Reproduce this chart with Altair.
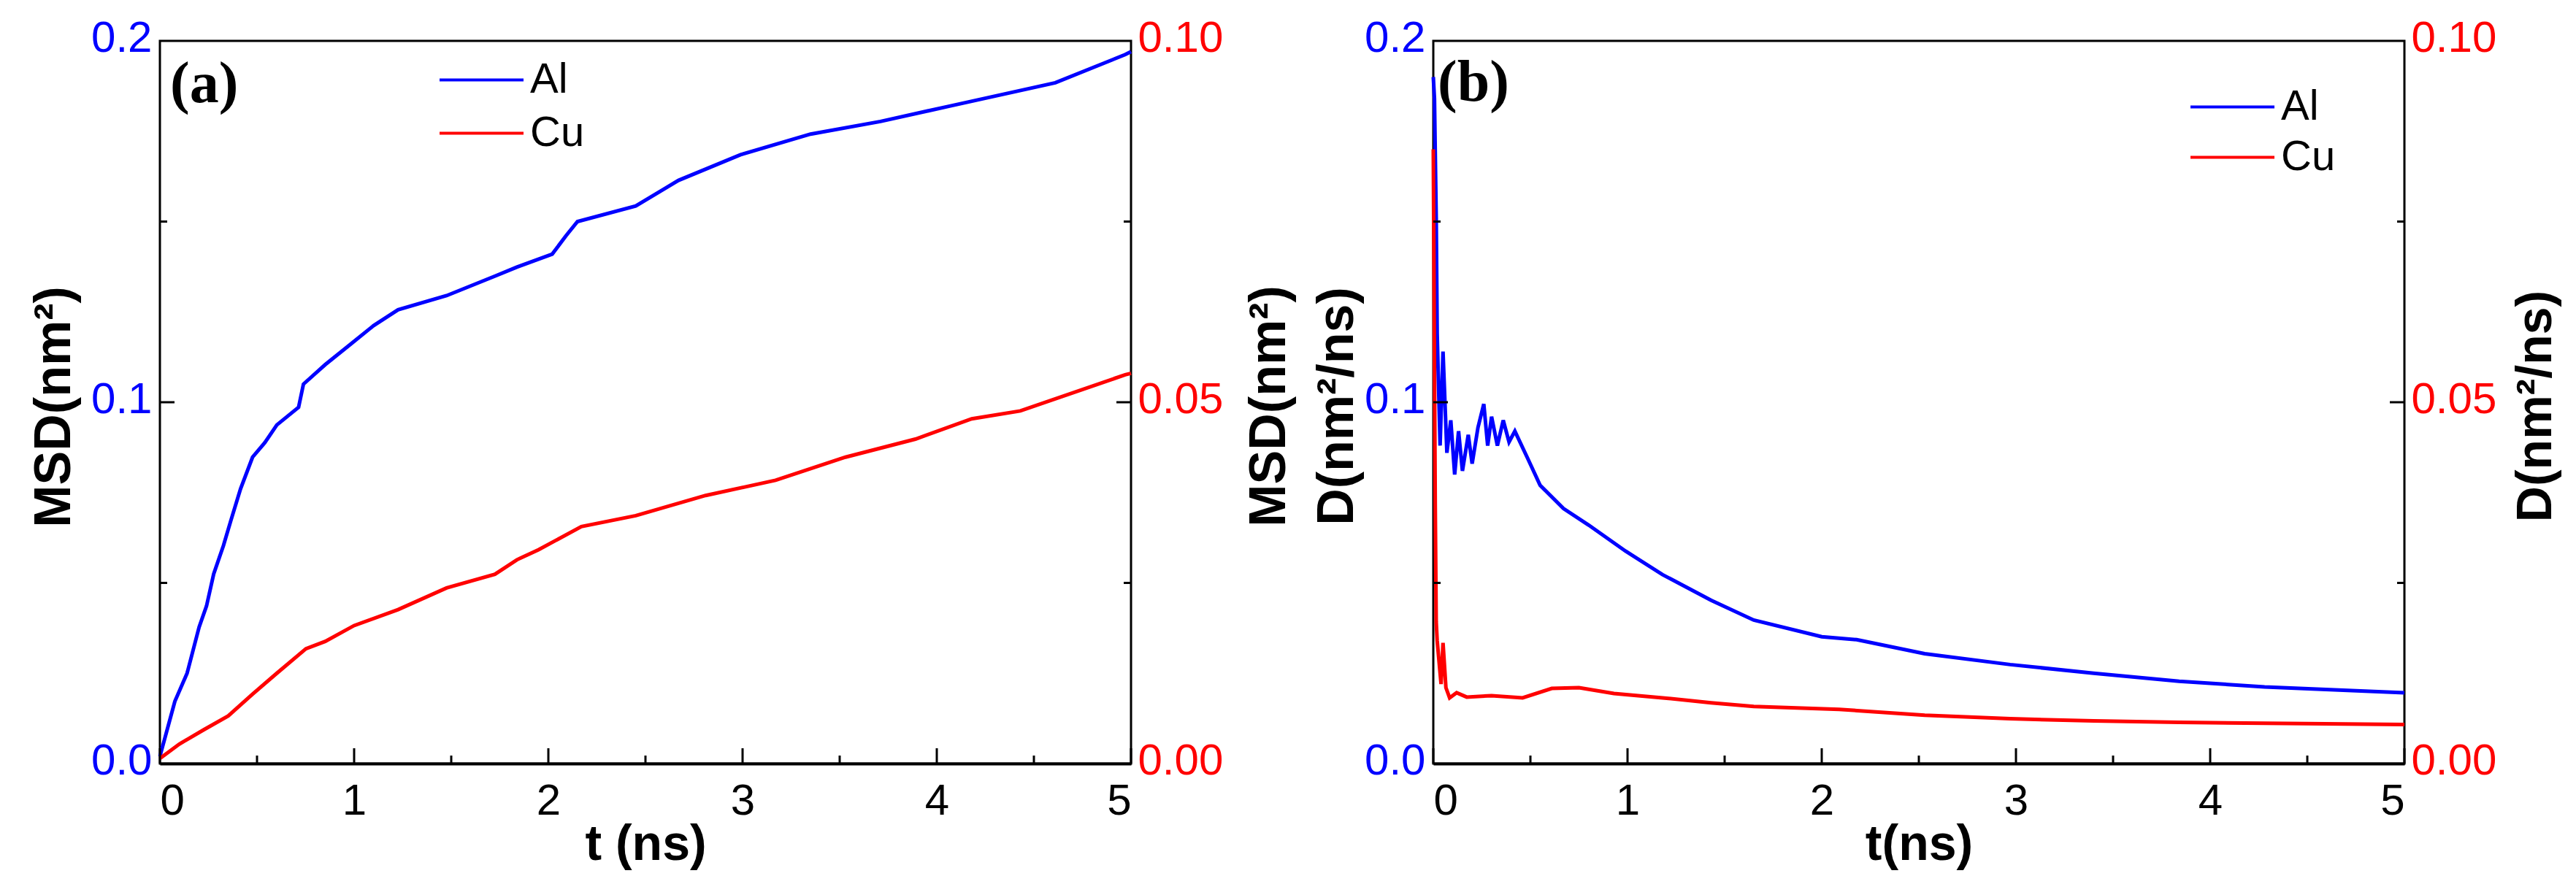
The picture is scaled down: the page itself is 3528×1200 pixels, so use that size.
"""
MSD (a) and diffusion coefficient D (b) of Al and Cu versus time,
two panels with a blue left axis (Al) and a red right axis (Cu).
"""
import altair as alt
import pandas as pd

# ---- panel (a): MSD ----
a_al_t = [0, 0.077, 0.14, 0.202, 0.24, 0.277, 0.327, 0.365, 0.415, 0.477,
          0.54, 0.602, 0.714, 0.739, 0.851, 0.976, 1.10, 1.226, 1.476, 1.725,
          1.838, 2.02, 2.09, 2.15, 2.45, 2.67, 2.99, 3.35, 3.71, 4.07, 4.61,
          4.97, 5.0]
a_al = [0.002, 0.0172, 0.025, 0.0378, 0.0436, 0.0525, 0.0603, 0.0672, 0.076,
        0.0848, 0.0888, 0.0937, 0.0986, 0.105, 0.1104, 0.1158, 0.1212, 0.1256,
        0.1295, 0.1349, 0.1374, 0.141, 0.146, 0.150, 0.1543, 0.1614, 0.1685,
        0.1742, 0.1777, 0.182, 0.1884, 0.1962, 0.197]
a_cu_t = [0, 0.1, 0.227, 0.352, 0.477, 0.602, 0.752, 0.851, 1.0, 1.226, 1.476,
          1.725, 1.838, 1.95, 2.17, 2.45, 2.81, 3.17, 3.53, 3.89, 4.18, 4.43,
          4.97, 5.0]
a_cu = [0.0007, 0.0027, 0.0047, 0.0066, 0.0096, 0.0125, 0.0159, 0.0169,
        0.0191, 0.0213, 0.0243, 0.0262, 0.0282, 0.0296, 0.0328, 0.0343, 0.0371,
        0.0392, 0.0424, 0.0449, 0.0477, 0.0488, 0.0538, 0.054]

# ---- panel (b): D ----
b_al_t = [0.0, 0.006, 0.015, 0.02, 0.035, 0.05, 0.07, 0.09, 0.11, 0.13, 0.15,
          0.18, 0.2, 0.23, 0.26, 0.28, 0.3, 0.33, 0.36, 0.39, 0.42, 0.49, 0.55,
          0.67, 0.8, 0.99, 1.18, 1.43, 1.65, 2.0, 2.18, 2.53, 2.97, 3.4, 3.84,
          4.28, 5.0]
b_al = [0.19, 0.184, 0.151, 0.119, 0.088, 0.114, 0.086, 0.095, 0.080, 0.092,
        0.081, 0.091, 0.083, 0.093, 0.0995, 0.088, 0.096, 0.088, 0.095, 0.089,
        0.092, 0.084, 0.077, 0.0706, 0.066, 0.0588, 0.0523, 0.0452, 0.0397,
        0.0351, 0.0343, 0.0304, 0.0274, 0.025, 0.0228, 0.0212, 0.0196]
b_cu_t = [0, 0.005, 0.01, 0.015, 0.02, 0.04, 0.05, 0.065, 0.084, 0.12, 0.172,
          0.3, 0.46, 0.61, 0.75, 0.93, 1.18, 1.43, 1.65, 2.09, 2.53, 2.97, 3.4,
          3.84, 5.0]
b_cu = [0.085, 0.06, 0.036, 0.0196, 0.017, 0.011, 0.0167, 0.0105, 0.0091,
        0.0098, 0.0092, 0.0094, 0.0091, 0.0104, 0.0105, 0.0097, 0.0091, 0.0084,
        0.0079, 0.0075, 0.0067, 0.0062, 0.0059, 0.0057, 0.0054]

metals = ["Al", "Cu"]
colors = ["#0000ff", "#ff0000"]

x_ticks = [0, 1, 2, 3, 4, 5]
x_minor = [0.5, 1.5, 2.5, 3.5, 4.5]
left_ticks = [0.0, 0.1, 0.2]
left_minor = [0.05, 0.15]
right_ticks = [0.0, 0.05, 0.1]
right_minor = [0.025, 0.075]

W, H = 1330, 990
FONT = "Liberation Sans"


def make_panel(al_t, al, cu_t, cu, tag, tag_t, tag_v, xtitle, ltitle, ltitle_x,
               ltitle_y, rtitle, rtitle_x, rtitle_y, leg_x, leg_y, leg_row):
    df_al = pd.DataFrame({"t": al_t, "v": al, "metal": "Al"})
    df_cu = pd.DataFrame({"t": cu_t, "v": cu, "metal": "Cu"})

    x_enc = alt.X(
        "t:Q",
        scale=alt.Scale(domain=[0, 5], nice=False),
        axis=alt.Axis(values=x_ticks, format="d", title=xtitle, ticks=False,
                      grid=False, domain=True, domainColor="black",
                      domainWidth=4, labelFont=FONT, labelFontSize=60,
                      labelColor="black", labelPadding=22, titleFont=FONT,
                      titleFontSize=68, titleFontWeight="bold",
                      titleColor="black", titleY=131,
                      titleBaseline="alphabetic"),
    )
    left_scale = alt.Scale(domain=[0, 0.2], nice=False)
    right_scale = alt.Scale(domain=[0, 0.1], nice=False)
    color = alt.Color(
        "metal:N",
        scale=alt.Scale(domain=metals, range=colors),
        legend=alt.Legend(orient="none", legendX=leg_x, legendY=leg_y,
                          title="", symbolType="stroke",
                          symbolSize=115 * 115, symbolStrokeWidth=4,
                          labelFont=FONT, labelFontSize=58,
                          labelColor="black", labelOffset=7, padding=0,
                          clipHeight=leg_row, rowPadding=0),
    )

    al_line = alt.Chart(df_al).mark_line(strokeWidth=5).encode(
        x=x_enc,
        y=alt.Y("v:Q", scale=left_scale,
                axis=alt.Axis(orient="left", values=left_ticks, format=".1f",
                              ticks=False, grid=False, domain=False,
                              labelFont=FONT, labelFontSize=60,
                              labelColor="#0000ff", labelPadding=11,
                              labelOffset=-4, title=ltitle, titleFont=FONT,
                              titleFontSize=70, titleFontWeight="bold",
                              titleColor="black", titleAngle=270,
                              titleX=ltitle_x, titleY=ltitle_y,
                              titleBaseline="alphabetic", titleAlign="center",
                              titleLineHeight=93)),
        color=color,
    )
    cu_line = alt.Chart(df_cu).mark_line(strokeWidth=5).encode(
        x=x_enc,
        y=alt.Y("v:Q", scale=right_scale,
                axis=alt.Axis(orient="right", values=right_ticks, format=".2f",
                              ticks=False, grid=False, domain=False,
                              labelFont=FONT, labelFontSize=60,
                              labelColor="#ff0000", labelPadding=9,
                              labelOffset=-4, title=rtitle, titleFont=FONT,
                              titleFontSize=68, titleFontWeight="bold",
                              titleColor="black", titleAngle=270,
                              titleX=rtitle_x, titleY=rtitle_y,
                              titleBaseline="alphabetic",
                              titleAlign="center")),
        color=color,
    )

    # inward tick marks
    xt_major = alt.Chart(pd.DataFrame({"t": x_ticks})).mark_rule(
        color="black", strokeWidth=3).encode(
        x=x_enc, y=alt.value(H), y2=alt.value(H - 21))
    xt_minor = alt.Chart(pd.DataFrame({"t": x_minor})).mark_rule(
        color="black", strokeWidth=3).encode(
        x=x_enc, y=alt.value(H), y2=alt.value(H - 11))
    lt_major = alt.Chart(pd.DataFrame({"v": [0.1]})).mark_rule(
        color="black", strokeWidth=3).encode(
        y=alt.Y("v:Q", scale=left_scale, axis=None),
        x=alt.value(0), x2=alt.value(20))
    lt_minor = alt.Chart(pd.DataFrame({"v": left_minor})).mark_rule(
        color="black", strokeWidth=3).encode(
        y=alt.Y("v:Q", scale=left_scale, axis=None),
        x=alt.value(0), x2=alt.value(10))
    rt_major = alt.Chart(pd.DataFrame({"v": [0.05]})).mark_rule(
        color="black", strokeWidth=3).encode(
        y=alt.Y("v:Q", scale=right_scale, axis=None),
        x=alt.value(W), x2=alt.value(W - 20))
    rt_minor = alt.Chart(pd.DataFrame({"v": right_minor})).mark_rule(
        color="black", strokeWidth=3).encode(
        y=alt.Y("v:Q", scale=right_scale, axis=None),
        x=alt.value(W), x2=alt.value(W - 10))

    label = alt.Chart(pd.DataFrame({"t": [tag_t], "v": [tag_v], "lab": [tag]})
                      ).mark_text(font="Liberation Serif", fontWeight="bold",
                                  fontSize=80, align="left",
                                  baseline="alphabetic", color="black").encode(
        x=x_enc, y=alt.Y("v:Q", scale=left_scale, axis=None), text="lab:N")

    return alt.layer(
        al_line, cu_line, xt_major, xt_minor, lt_major, lt_minor, rt_major,
        rt_minor, label
    ).resolve_scale(y="independent").properties(width=W, height=H)


panel_a = make_panel(a_al_t, a_al, a_cu_t, a_cu, "(a)", 0.053, 0.183,
                     "t (ns)", "MSD(nm²)", -124, 501, "", 100, 495,
                     381, 17, 73)
panel_b = make_panel(b_al_t, b_al, b_cu_t, b_cu, "(b)", 0.023, 0.1835,
                     "t(ns)", ["MSD(nm²)", "D(nm²/ns)"], -204, 500,
                     "D(nm²/ns)", 200, 500, 1035, 56, 69)

chart = alt.hconcat(panel_a, panel_b, spacing=24).resolve_legend(
    color="independent"
).properties(
    padding={"left": 29, "top": 12, "right": 0, "bottom": 0}
).configure(
    background="white"
).configure_view(
    stroke="black", strokeWidth=3
)

chart.save("out.html", embed_options={"renderer": "svg", "actions": False})
